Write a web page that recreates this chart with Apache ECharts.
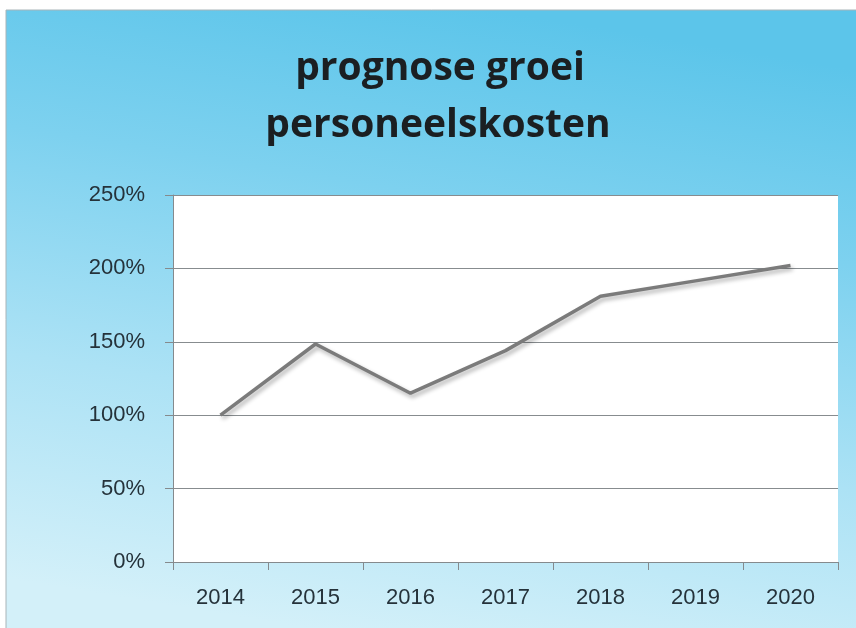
<!DOCTYPE html>
<html>
<head>
<meta charset="utf-8">
<script src="https://cdn.jsdelivr.net/npm/echarts@6/dist/echarts.min.js"></script>
<style>
html,body{margin:0;padding:0;background:#fff;}
#main{width:856px;height:628px;}
</style>
</head>
<body>
<div id="main"></div>
<script>
const titleLines = ['prognose groei', 'personeelskosten'];
const categories = ['2014', '2015', '2016', '2017', '2018', '2019', '2020'];
const growth = [1.00, 1.485, 1.15, 1.44, 1.81, 1.915, 2.02];
const yTicks = [0, 0.5, 1.0, 1.5, 2.0, 2.5];

const chart = echarts.init(document.getElementById('main'), null, {renderer: 'canvas'});
const textColor = '#25323a';
const option = {
  animation: false,
  backgroundColor: '#ffffff',
  graphic: [
    {
      type: 'rect', z: -10, silent: true,
      shape: {x: 6, y: 10, width: 860, height: 630},
      style: {
        fill: new echarts.graphic.LinearGradient(0.56, 0, 0.44, 1, [
          {offset: 0, color: '#5cc5ea'},
          {offset: 0.3, color: '#7dd1ef'},
          {offset: 0.65, color: '#ace2f5'},
          {offset: 1, color: '#d3f0f9'}
        ]),
        stroke: '#a9b4b8', lineWidth: 1
      }
    },
    {
      type: 'text', z: 10, silent: true,
      style: {
        text: titleLines[0],
        x: 440, y: 69,
        fill: '#1b1f22',
        font: 'bold 39px "Open Sans"',
        align: 'center',
        verticalAlign: 'middle'
      }
    },
    {
      type: 'text', z: 10, silent: true,
      style: {
        text: titleLines[1],
        x: 438, y: 126,
        fill: '#1b1f22',
        font: 'bold 39px "Open Sans"',
        align: 'center',
        verticalAlign: 'middle'
      }
    }
  ],
  grid: {
    left: 173, top: 195, right: 18, bottom: 66,
    show: true, backgroundColor: '#ffffff', borderWidth: 0
  },
  xAxis: {
    type: 'category',
    data: categories,
    boundaryGap: true,
    axisLine: {show: true, lineStyle: {color: '#858a8d', width: 1}},
    axisTick: {show: true, length: 8, lineStyle: {color: '#858a8d'}},
    axisLabel: {color: textColor, fontSize: 22, fontFamily: 'Liberation Sans', margin: 25}
  },
  yAxis: {
    type: 'value',
    min: yTicks[0], max: yTicks[yTicks.length - 1], interval: yTicks[1] - yTicks[0],
    axisLine: {show: true, lineStyle: {color: '#858a8d', width: 1}},
    axisTick: {show: true, length: 8, lineStyle: {color: '#858a8d'}},
    splitLine: {show: true, lineStyle: {color: '#878c8f', width: 1.2}},
    axisLabel: {
      color: textColor, fontSize: 22, fontFamily: 'Liberation Sans', margin: 28,
      formatter: v => Math.round(v * 100) + '%'
    }
  },
  series: [{
    type: 'line',
    data: growth,
    showSymbol: false,
    symbol: 'none',
    lineStyle: {
      color: '#7b7b7b', width: 3.5,
      shadowColor: 'rgba(0,0,0,0.3)', shadowBlur: 4, shadowOffsetX: 2, shadowOffsetY: 3
    }
  }]
};
chart.setOption(option);
</script>
</body>
</html>
